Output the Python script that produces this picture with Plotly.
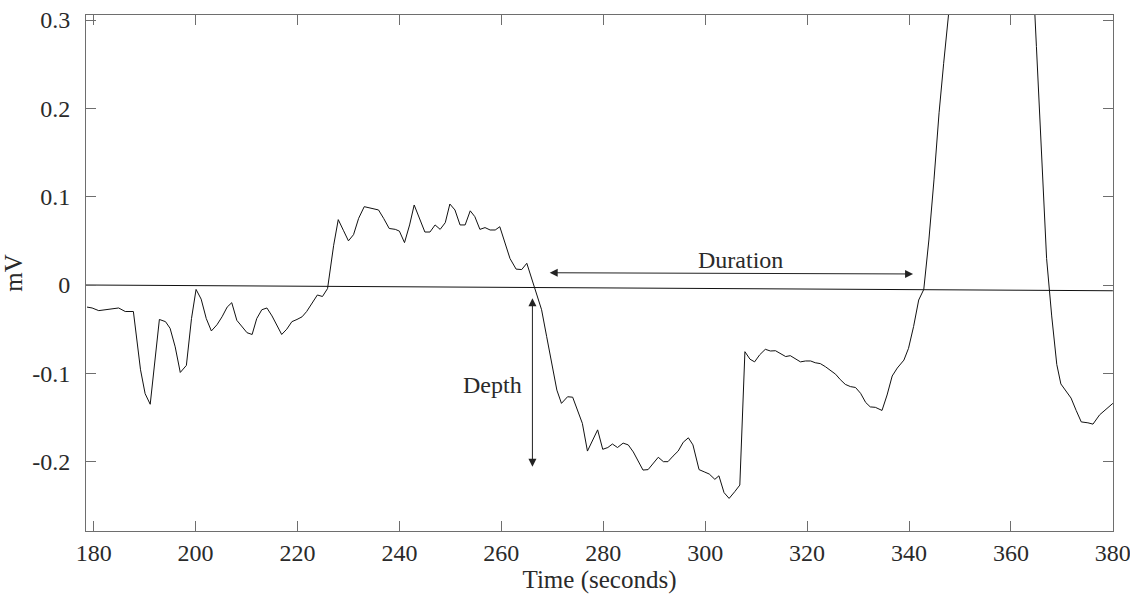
import plotly.graph_objects as go

# Signal samples (time in seconds, value in mV)
time_s = [178.7, 179.7, 181, 182.3, 183.6, 184.9, 186.2, 187.8, 189.2, 190.1, 191.1, 192.9, 194.1, 195, 196, 197, 198.2, 199.2,
          200.1, 201.1, 202.1, 203.1, 204.2, 205.2, 206.2, 207.1, 208.1, 209.1, 210.1, 211.1, 212, 213, 214, 215, 216, 216.9,
          217.9, 218.9, 219.9, 220.9, 221.8, 222.9, 223.9, 224.9, 225.9, 227.1, 228, 229, 230, 231, 232, 233.1, 234.6, 235.9,
          236.9, 238, 239.2, 240, 241, 242, 242.9, 243.9, 245, 246, 247, 248, 249, 249.9, 250.9, 251.9, 252.9, 253.9, 254.8,
          255.8, 256.8, 257.8, 258.8, 259.7, 260.7, 261.7, 262.9, 264, 265, 266, 266.9, 267.9, 268.9, 269.9, 270.9, 271.8,
          273, 274, 274.9, 275.9, 276.9, 277.9, 278.9, 279.9, 280.9, 281.8, 282.8, 283.9, 284.9, 285.9, 286.9, 287.8, 288.8,
          289.8, 290.8, 291.8, 292.7, 293.7, 294.7, 295.7, 296.7, 297.6, 298.8, 299.8, 300.8, 301.9, 302.7, 303.7, 304.7,
          305.8, 306.8, 307.8, 308.8, 309.7, 310.7, 311.8, 312.8, 313.8, 314.8, 315.8, 316.7, 317.7, 318.7, 319.7, 320.7,
          321.6, 322.6, 323.6, 324.6, 325.6, 326.5, 327.5, 328.5, 329.5, 330.5, 331.5, 332.4, 333.4, 334.7, 335.7, 336.7,
          337.7, 339, 339.9, 340.9, 341.9, 342.9, 343.9, 344.9, 345.9, 346.8, 347.8, 348.8, 350, 352, 354, 356, 358, 360,
          362, 363, 364, 365, 366, 367, 368, 369, 369.8, 370.8, 371.8, 372.8, 373.8, 375.1, 376.1, 377.4, 378.7, 380]
signal_mv = [-0.025, -0.026, -0.029, -0.028, -0.0275, -0.026, -0.030, -0.030, -0.096, -0.123, -0.135, -0.039, -0.0415, -0.049,
             -0.070, -0.099, -0.091, -0.038, -0.005, -0.016, -0.038, -0.052, -0.045, -0.036, -0.025, -0.020, -0.040, -0.047,
             -0.054, -0.056, -0.038, -0.028, -0.026, -0.035, -0.047, -0.056, -0.050, -0.0415, -0.039, -0.036, -0.030, -0.020,
             -0.0113, -0.013, -0.004, 0.045, 0.074, 0.062, 0.050, 0.057, 0.0755, 0.0887, 0.087, 0.085, 0.0755, 0.064, 0.063,
             0.061, 0.048, 0.068, 0.0906, 0.0755, 0.060, 0.060, 0.068, 0.063, 0.0706, 0.0917, 0.085, 0.068, 0.068, 0.084,
             0.0774, 0.063, 0.065, 0.0623, 0.0623, 0.066, 0.047, 0.030, 0.018, 0.0175, 0.0246, 0.0057, -0.0094, -0.028,
             -0.0585, -0.0887, -0.119, -0.134, -0.1265, -0.127, -0.1416, -0.1566, -0.188, -0.1755, -0.164, -0.186, -0.184,
             -0.180, -0.184, -0.179, -0.181, -0.189, -0.200, -0.2095, -0.209, -0.202, -0.195, -0.200, -0.200, -0.1937,
             -0.188, -0.178, -0.173, -0.181, -0.209, -0.2115, -0.214, -0.220, -0.216, -0.235, -0.2416, -0.234, -0.2265,
             -0.0755, -0.084, -0.087, -0.079, -0.0728, -0.0747, -0.0744, -0.078, -0.081, -0.080, -0.084, -0.087, -0.086,
             -0.086, -0.088, -0.089, -0.0925, -0.097, -0.101, -0.107, -0.1125, -0.115, -0.116, -0.1226, -0.133, -0.138,
             -0.1385, -0.142, -0.1245, -0.103, -0.094, -0.085, -0.0717, -0.047, -0.017, -0.005, 0.051, 0.119, 0.195, 0.251,
             0.31, 0.37, 0.45, 0.55, 0.62, 0.66, 0.66, 0.62, 0.52, 0.45, 0.39, 0.27, 0.15, 0.03, -0.035, -0.09, -0.112,
             -0.12, -0.128, -0.142, -0.155, -0.156, -0.1575, -0.147, -0.140, -0.134]

# Baseline (reference level) endpoints
baseline_t = [178.5, 380.0]
baseline_mv = [0.0, -0.0065]

# Axis ticks
x_ticks = [180, 200, 220, 240, 260, 280, 300, 320, 340, 360, 380]
y_ticks = [0.3, 0.2, 0.1, 0.0, -0.1, -0.2]
y_tick_text = ["0.3", "0.2", "0.1", "0", "-0.1", "-0.2"]

FONT = "Liberation Serif, Times New Roman, serif"
AXIS_COLOR = "#6e6e6e"
TEXT_COLOR = "#2a2a2a"

fig = go.Figure()
fig.add_trace(go.Scatter(x=baseline_t, y=baseline_mv, mode="lines",
                         line=dict(color="#111111", width=1), showlegend=False, hoverinfo="skip"))
fig.add_trace(go.Scatter(x=time_s, y=signal_mv, mode="lines",
                         line=dict(color="#111111", width=1), showlegend=False))

arrow_common = dict(xref="x", yref="y", axref="x", ayref="y", showarrow=True,
                    arrowhead=2, startarrowhead=2, arrowside="end+start",
                    arrowsize=1.6, startarrowsize=1.6, arrowwidth=1, arrowcolor="#222222", text="")
# Duration double arrow
fig.add_annotation(x=340.8, y=0.0125, ax=269.2, ay=0.0139, **arrow_common)
# Depth double arrow
fig.add_annotation(x=266.1, y=-0.2058, ax=266.1, ay=-0.0132, **arrow_common)

fig.add_annotation(x=307.0, y=0.0283, xref="x", yref="y", text="Duration", showarrow=False,
                   font=dict(family=FONT, size=24, color=TEXT_COLOR))
fig.add_annotation(x=258.2, y=-0.1133, xref="x", yref="y", text="Depth", showarrow=False,
                   font=dict(family=FONT, size=24, color=TEXT_COLOR))

fig.update_layout(
    width=1130, height=599,
    margin=dict(l=86, r=17, t=15, b=68),
    paper_bgcolor="white", plot_bgcolor="white",
    font=dict(family=FONT, size=24, color=TEXT_COLOR),
    showlegend=False,
)
fig.update_xaxes(range=[178.5, 380.03], tickvals=x_ticks, ticks="inside", ticklen=10, tickcolor=AXIS_COLOR,
                 showline=True, linecolor=AXIS_COLOR, linewidth=1, mirror="ticks", showgrid=False, zeroline=False,
                 automargin=False, ticklabeloverflow="allow",
                 title=dict(text="Time (seconds)", font=dict(family=FONT, size=25), standoff=0),
                 tickfont=dict(family=FONT, size=24, color=TEXT_COLOR), ticklabelstandoff=0)
fig.update_yaxes(range=[-0.2785, 0.3057], tickvals=y_ticks, ticktext=y_tick_text, ticks="inside", ticklen=10,
                 tickcolor=AXIS_COLOR, showline=True, linecolor=AXIS_COLOR, linewidth=1, mirror="ticks",
                 showgrid=False, zeroline=False, automargin=False, ticklabeloverflow="allow",
                 title=dict(text="mV", font=dict(family=FONT, size=25), standoff=3),
                 tickfont=dict(family=FONT, size=24, color=TEXT_COLOR), ticklabelstandoff=10)

fig.write_html("out.html", config={"displayModeBar": False},
               post_script="document.body.style.margin='0px';document.body.style.overflow='hidden';")
